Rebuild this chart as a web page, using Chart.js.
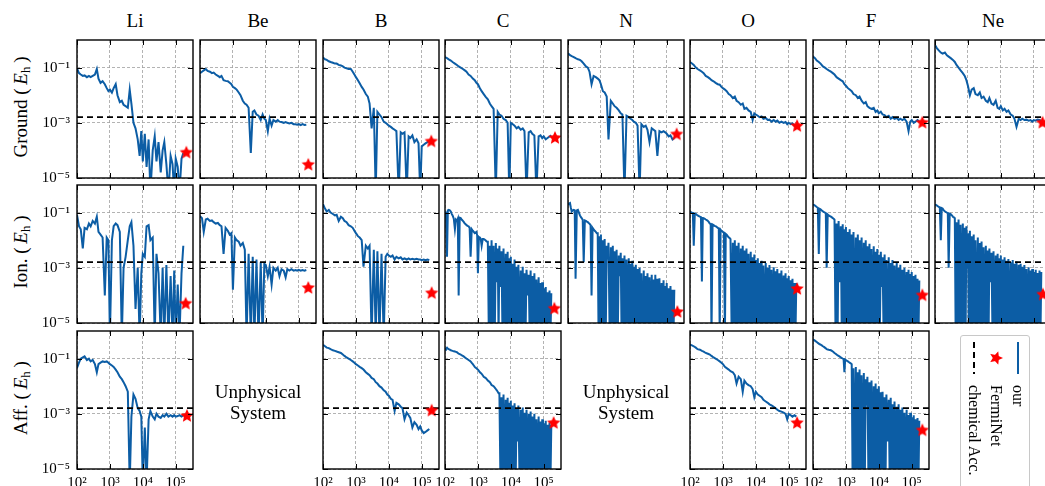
<!DOCTYPE html>
<html>
<head>
<meta charset="utf-8">
<title>Training error per element</title>
<script src="https://cdn.jsdelivr.net/npm/chart.js@4.4.1/dist/chart.umd.min.js"></script>
<style>
  html, body { margin: 0; padding: 0; overflow: hidden; background: #fff; }
  body { position: relative; width: 1045px; height: 486px; font-family: "Liberation Serif", "DejaVu Serif", serif; color: #000; }
  canvas { position: absolute; }
  .col-title { position: absolute; top: 11px; width: 116px; text-align: center; font-size: 19px; line-height: 19px; }
  .row-title { position: absolute; left: 20px; white-space: nowrap; font-size: 19px; line-height: 19px; transform: translate(-50%, -50%) rotate(-90deg); }
  .row-title sub { font-size: 13px; vertical-align: -3px; line-height: 0; }
  .unphysical { position: absolute; width: 116px; text-align: center; font-size: 19px; line-height: 21px; transform: translateY(-50%); }
  #legend { position: absolute; left: 960px; top: 335px; width: 68px; height: 170px; border: 1px solid #c8c8c8; border-radius: 3px; background: #fff; }
  #legend-inner { position: absolute; left: 68px; top: 0; width: 170px; height: 68px; transform-origin: 0 0; transform: rotate(90deg); }
  .legend-row { position: absolute; left: 0; width: 170px; height: 22px; }
  .legend-row .sym { position: absolute; left: 6px; top: 0; width: 32px; height: 22px; display: flex; align-items: center; justify-content: center; }
  .legend-row .txt { position: absolute; left: 49px; top: 0; font-size: 16px; line-height: 22px; white-space: nowrap; }
</style>
</head>
<body>
<script>
// training steps, coarse grid for calm curves
const steps = [100, 115, 130, 150, 170, 200, 230, 260, 300, 350, 400, 450, 520, 600, 700, 800, 900,
  1000, 1150, 1300, 1500, 1700, 2000, 2300, 2600, 3000, 3500, 4000, 4500, 5200, 6000, 7000, 8000, 9000,
  10000, 11500, 13000, 15000, 17000, 20000, 23000, 26000, 30000, 35000, 40000, 45000, 52000, 60000, 70000, 80000, 90000,
  100000, 115000, 130000, 150000, 170000];
// finer grid for the curves that flip sign all the time
const fineSteps = [100, 107, 115, 122, 130, 140, 150, 160, 170, 185, 200, 215, 230, 245, 260, 280, 300, 325, 350, 375,
  400, 425, 450, 485, 520, 560, 600, 650, 700, 750, 800, 850, 900, 950,
  1000, 1070, 1150, 1220, 1300, 1400, 1500, 1600, 1700, 1850, 2000, 2150, 2300, 2450, 2600, 2800, 3000, 3250, 3500, 3750,
  4000, 4250, 4500, 4850, 5200, 5600, 6000, 6500, 7000, 7500, 8000, 8500, 9000, 9500,
  10000, 10700, 11500, 12200, 13000, 14000, 15000, 16000, 17000, 18500, 20000, 21500, 23000, 24500, 26000, 28000, 30000, 32500, 35000, 37500,
  40000, 42500, 45000, 48500, 52000, 56000, 60000, 65000, 70000, 75000, 80000, 85000, 90000, 95000,
  100000, 107000, 115000, 122000, 130000, 140000, 150000, 160000, 170000];

const elements = ['Li', 'Be', 'B', 'C', 'N', 'O', 'F', 'Ne'];
const rowNames = ['Ground', 'Ion.', 'Aff.'];
const legendLabels = ['our', 'FermiNet', 'chemical Acc.'];
const xTickValues = [1e2, 1e3, 1e4, 1e5];
const xTickLabels = ['10²', '10³', '10⁴', '10⁵'];
const yTickValues = [1e-5, 1e-3, 1e-1];
const yTickLabels = ['10⁻⁵', '10⁻³', '10⁻¹'];
const CHEM_ACC = 1.6e-3;
const X_MIN = 100, X_MAX = 3.35e5, Y_MIN = 1e-5, Y_MAX = 1;

// ground state energy error (coarse grid)
const liGround = [9.3e-2,6.3e-2,5.6e-2,5e-2,5.2e-2,4.5e-2,5e-2,4.5e-2,5e-2,5.6e-2,8.9e-2,4e-2,2.8e-2,3.2e-2,2.5e-2,1.8e-2,1.4e-2,1.6e-2,1.25e-2,1.8e-2,2.5e-2,1e-2,5.6e-3,6.3e-3,4.5e-3,4e-3,3.5e-3,1.6e-2,5e-3,1e-3,6.3e-4,2.5e-4,6.3e-5,5e-4,4e-5,4e-4,2.5e-5,2.5e-4,3e-6,1e-4,3.2e-4,4e-5,2e-4,1.6e-5,1e-4,2e-4,3.2e-5,3e-6,6.3e-5,3.2e-5,3e-6,5e-5,2.5e-5,3e-6,5e-5,8e-5];
const beGround = [6.3e-2,7.1e-2,7.9e-2,8.9e-2,7.6e-2,7.1e-2,6.3e-2,6.6e-2,5.6e-2,5e-2,4.5e-2,5e-2,3.5e-2,3.3e-2,3.2e-2,2.8e-2,2.5e-2,2e-2,1.8e-2,1.6e-2,1.25e-2,1e-2,6.3e-3,5e-3,4.5e-3,3.5e-3,8e-5,2.5e-3,2.8e-3,2e-3,1.8e-3,1.26e-3,2e-3,1.4e-3,1.26e-3,5e-4,1.4e-3,7.9e-4,1.26e-3,1.1e-3,1.26e-3,1.1e-3,1.07e-3,1e-3,1.07e-3,1e-3,9.5e-4,1e-3,8.9e-4,8.9e-4,8.5e-4,8.9e-4,8.3e-4,8.9e-4,8.3e-4,8.5e-4];
const bGround = [0.23,0.2,0.19,0.17,0.16,0.15,0.14,0.14,0.125,0.12,0.11,0.1,0.095,0.089,0.089,0.071,0.056,0.045,0.035,0.027,0.02,0.016,0.011,8.9e-3,5e-3,6.3e-4,3.5e-3,3e-6,2.5e-3,2e-3,1.6e-3,1.1e-3,1e-3,8.9e-4,7.9e-4,7.1e-4,6.3e-4,5.6e-4,5e-4,3e-6,4.5e-4,4e-4,4.5e-4,3e-6,3.2e-4,2.8e-4,3.5e-4,2e-4,2.5e-4,1.8e-4,3e-6,1.4e-4,1.6e-4,1.8e-4,2e-4,2.2e-4];
const cGround = [0.24,0.22,0.2,0.18,0.16,0.14,0.125,0.11,0.1,0.089,0.079,0.071,0.056,0.05,0.04,0.035,0.028,0.025,0.018,0.014,0.011,8.9e-3,7.1e-3,5e-3,4e-3,3.2e-3,3e-6,2.5e-3,2e-3,1.8e-3,1.4e-3,1.26e-3,1e-3,3e-6,1e-3,8.9e-4,7.9e-4,6.3e-4,7.1e-4,5.6e-4,6.3e-4,5e-4,3e-6,4.5e-4,5e-4,4e-4,3.5e-4,3e-6,3.2e-4,3.5e-4,2.8e-4,3.2e-4,2.5e-4,2.8e-4,3.2e-4,3.5e-4];
const nGround = [0.33,0.28,0.26,0.24,0.22,0.2,0.19,0.17,0.14,0.11,0.1,0.071,0.025,0.05,0.045,0.04,0.035,0.025,0.014,0.0125,8.9e-3,2.5e-4,6.3e-3,5e-3,4e-3,3.5e-3,2.8e-3,2.2e-3,2e-3,3e-6,1.8e-3,1.6e-3,1.4e-3,1.26e-3,1.1e-3,1e-3,7.9e-4,3e-6,8.9e-4,7.1e-4,7.9e-4,5.6e-4,2e-4,6.3e-4,5.6e-4,5e-4,6.3e-5,5e-4,4.5e-4,5e-4,4.5e-4,4e-4,3.2e-4,3.5e-4,2.5e-4,2.8e-4];
const oGround = [0.16,0.14,0.125,0.1,0.089,0.079,0.071,0.063,0.05,0.045,0.04,0.035,0.032,0.028,0.025,0.024,0.02,0.018,0.016,0.014,0.011,0.01,7.9e-3,8.9e-3,6.3e-3,5.6e-3,4.5e-3,5e-3,3.2e-3,3.5e-3,2.8e-3,2.5e-3,1.26e-3,2.2e-3,2e-3,1.8e-3,1.6e-3,1.7e-3,1.4e-3,1.5e-3,1.26e-3,1.3e-3,1.1e-3,1.26e-3,1.1e-3,1.2e-3,1e-3,1.1e-3,1e-3,1.07e-3,8.9e-4,1e-3,8.9e-4,9.5e-4,7.9e-4,7.9e-4];
const fGround = [0.25,0.22,0.18,0.16,0.14,0.11,0.1,0.089,0.079,0.071,0.063,0.056,0.045,0.04,0.035,0.032,0.025,0.022,0.018,0.016,0.014,0.011,0.01,7.9e-3,8.9e-3,6.3e-3,5e-3,5.6e-3,4e-3,3.5e-3,3.2e-3,3.5e-3,2.5e-3,2.8e-3,2.2e-3,2.5e-3,2e-3,1.9e-3,1.6e-3,1.8e-3,1.4e-3,1.6e-3,1.4e-3,1.5e-3,1.26e-3,1.4e-3,1.26e-3,1.4e-3,1.1e-3,5e-4,1.1e-3,1.26e-3,1e-3,1.1e-3,1.26e-3,1.1e-3];
const neGround = [0.66,0.5,0.42,0.35,0.32,0.35,0.28,0.25,0.22,0.19,0.16,0.125,0.1,0.079,0.063,0.05,0.035,0.022,0.01,0.016,0.018,0.011,0.01,0.0125,7.9e-3,8.9e-3,6.3e-3,5.6e-3,7.9e-3,5e-3,4.5e-3,6.3e-3,3.5e-3,3.2e-3,4e-3,2.8e-3,3.2e-3,2.5e-3,2.8e-3,2e-3,1.8e-3,1.4e-3,7.1e-4,1.4e-3,1.26e-3,1.4e-3,1.26e-3,1.3e-3,1.2e-3,1.26e-3,1.1e-3,1.26e-3,1.2e-3,1.3e-3,1.26e-3,1.2e-3];

// ionization energy error (Li, Be, B coarse grid; the rest fine grid)
const liIon = [8.3e-2,3.2e-2,2.5e-2,5e-3,2.8e-2,2.5e-2,4e-2,3.2e-2,5e-2,4e-2,7.1e-2,2e-2,1.6e-2,1.25e-2,1e-4,1.25e-2,1e-2,3e-6,1e-2,3.2e-2,4e-2,3.5e-2,2e-2,3e-6,1e-3,2.5e-3,1e-2,3.2e-2,4.5e-2,6.3e-3,3.2e-5,1e-3,3e-6,6.3e-4,3.2e-3,2.5e-3,3.2e-2,3.5e-2,1e-2,1.25e-2,3e-6,3.2e-3,6.3e-4,3e-6,1e-3,3e-6,1.26e-3,3e-6,5e-4,3e-6,7.9e-4,3e-6,2.5e-4,3e-6,6.3e-4,6.3e-3];
const beIon = [7.4e-2,6.3e-2,2e-2,5.6e-2,6e-2,5e-2,5.2e-2,4.5e-2,4e-2,4.2e-2,3.5e-2,3.2e-2,3.2e-3,2.8e-2,2.2e-2,1.6e-2,1.8e-2,1.6e-4,1.25e-2,1e-2,8.9e-3,6.3e-3,7.9e-3,4.5e-3,3e-6,3.2e-3,3e-6,2.5e-3,3e-6,2e-3,3e-6,1.6e-3,3e-6,1.4e-3,1.26e-3,5e-4,1.1e-3,2.5e-4,1e-3,7.9e-4,1e-3,5e-4,8.9e-4,7.9e-4,4.5e-4,8.9e-4,7.9e-4,8.9e-4,7.9e-4,8.3e-4,7.9e-4,8.5e-4,7.9e-4,8.3e-4,7.9e-4,8.3e-4];
const bIon = [0.2,0.14,0.11,0.125,0.1,0.089,0.079,0.083,0.05,0.071,0.063,0.05,0.045,0.035,0.032,0.028,0.022,0.018,0.014,0.0125,0.01,1.1e-3,6.3e-3,5e-3,6.3e-3,3e-6,4.5e-3,3e-6,4e-3,3e-6,3.2e-3,3e-6,2.5e-3,3.2e-3,2.8e-3,2.5e-3,2.8e-3,2e-3,2.5e-3,2.2e-3,2.4e-3,2e-3,2.2e-3,2e-3,2.2e-3,2e-3,2.1e-3,2e-3,2.1e-3,2e-3,2e-3,1.9e-3,2e-3,1.9e-3,2e-3,1.9e-3];
const cIon = [0.1,0.11,2.5e-3,0.12,0.125,0.12,0.11,0.09,0.079,0.06,
  0.025,0.055,0.05,0.06,1e-4,0.065,0.063,0.055,0.05,0.045,
  0.04,0.038,0.035,0.033,0.032,0.028,2.5e-3,0.025,0.022,0.02,
  0.018,0.019,0.02,0.015,6.3e-4,0.013,0.0125,0.011,6.3e-3,0.011,
  0.011,0.0105,0.01,0.009,
  8.9e-3,3e-6,6.3e-3,3e-6,1e-2,3e-6,6.3e-3,3e-6,7.9e-3,3e-4,
  5e-3,3e-6,6.3e-3,2e-4,4e-3,3e-6,5e-3,3e-6,3.2e-3,3e-6,
  3.8e-3,3e-6,2.2e-3,3e-6,2.5e-3,3e-6,1.4e-3,3e-6,2e-3,3e-6,
  1.1e-3,3e-6,1.3e-3,3e-6,8e-4,3e-6,1.1e-3,3e-6,6.3e-4,3e-6,
  8.5e-4,1e-4,5.6e-4,3e-6,8e-4,3e-6,5e-4,3e-6,6.3e-4,3e-6,
  3.8e-4,3e-6,4.5e-4,3e-6,2.8e-4,3e-6,3e-4,3e-6,1.8e-4,3e-6,
  2e-4,3e-6,1.3e-4,3e-6,1.5e-4,3e-6,1.2e-4];
const nIon = [0.2,0.21,0.22,0.15,0.11,0.12,0.125,0.12,4e-4,0.12,
  0.125,0.1,0.079,0.07,0.063,0.055,1.6e-3,0.052,0.05,0.047,
  0.045,0.042,0.04,0.035,1e-4,0.028,0.025,0.022,0.02,0.018,
  0.018,3e-6,0.014,3e-6,0.016,3e-6,0.01,3e-6,0.011,3e-6,
  6.3e-3,2e-3,8e-3,3e-6,5.6e-3,3e-6,6.3e-3,3e-6,4e-3,3e-6,
  4.5e-3,3e-6,2.8e-3,5e-4,3.5e-3,3e-6,2.2e-3,3e-6,2.8e-3,3e-6,
  2e-3,3e-6,2.2e-3,3e-6,1.4e-3,3e-6,1.8e-3,3e-6,1.1e-3,3e-6,
  1.3e-3,3e-6,9e-4,3e-6,1e-3,3e-6,6.3e-4,3e-6,7.9e-4,3e-6,
  5e-4,3e-6,6.3e-4,3e-6,4.5e-4,3e-6,5.6e-4,3e-6,3.8e-4,3e-6,
  5.6e-4,3e-6,4e-4,3e-6,4.2e-4,3e-6,2.8e-4,3e-6,3.5e-4,3e-6,
  2.2e-4,3e-6,2.8e-4,3e-6,1.8e-4,3e-6,2.2e-4,3e-6,1.6e-4,3e-6,
  1.6e-4];
const oIon = [0.11,0.105,0.1,0.098,6.3e-3,0.092,0.089,0.084,0.079,0.075,
  0.071,0.068,3.2e-4,0.064,0.063,0.06,0.056,0.053,0.05,0.045,
  0.04,0.039,3e-6,0.037,0.035,0.033,0.032,0.03,0.028,0.026,
  3e-6,0.024,0.022,0.021,0.02,0.019,3e-6,0.017,0.016,0.014,
  0.0126,0.012,
  0.011,3e-6,8e-3,3e-6,0.01,3e-6,6.3e-3,3e-6,
  8e-3,3e-6,5e-3,3e-6,6.3e-3,3e-6,4.2e-3,3e-6,5e-3,3e-6,
  3.2e-3,3e-6,3.8e-3,3e-6,2.4e-3,3e-6,3e-3,3e-6,1.9e-3,3e-6,
  2.2e-3,3e-6,1.5e-3,3e-6,1.8e-3,3e-6,1.2e-3,3e-6,1.5e-3,3e-6,
  1e-3,3e-6,1.26e-3,3e-6,8.5e-4,3e-6,1.05e-3,3e-6,7.5e-4,3e-6,
  9e-4,3e-6,6.3e-4,3e-6,7.9e-4,3e-6,5.3e-4,3e-6,6.3e-4,3e-6,
  4.2e-4,3e-6,5e-4,3e-6,3.5e-4,3e-6,4e-4,3e-6,2.8e-4,3e-6,
  2.8e-4];
const fIon = [0.2,0.19,0.18,0.17,0.16,0.15,3.2e-3,0.135,0.13,0.12,
  0.11,0.105,0.1,0.095,1e-3,0.085,0.079,0.075,0.071,0.067,
  0.063,0.06,
  0.056,3e-6,0.04,3e-6,0.05,3e-4,0.032,3e-6,
  0.038,3e-6,0.025,3e-6,0.03,3e-6,0.02,3e-6,0.025,3e-6,
  0.016,3e-6,0.02,3e-6,0.0126,3e-6,0.016,3e-6,0.01,3e-6,
  0.0126,3e-6,8e-3,3e-6,0.01,3e-6,6e-3,3e-6,7.5e-3,3e-6,
  4.8e-3,3e-6,6e-3,3e-6,3.8e-3,3e-6,4.8e-3,3e-6,3e-3,3e-6,
  3.8e-3,2e-4,2.4e-3,3e-6,3e-3,3e-6,1.9e-3,3e-6,2.4e-3,3e-6,
  1.5e-3,3e-6,1.9e-3,3e-6,1.2e-3,3e-6,1.5e-3,3e-6,1e-3,3e-6,
  1.3e-3,3e-6,8.5e-4,3e-6,1e-3,3e-6,7e-4,3e-6,8.5e-4,3e-6,
  6e-4,3e-6,7.1e-4,3e-6,5e-4,3e-6,5.6e-4,3e-6,4e-4,3e-6,
  3.5e-4];
const neIon = [0.2,0.19,0.18,0.17,0.16,0.155,0.01,0.145,0.14,0.12,
  0.11,0.105,0.1,0.097,1e-3,0.092,0.089,0.08,0.071,0.067,
  0.063,3e-6,0.045,3e-6,0.056,3e-6,0.036,3e-6,0.04,3e-6,
  0.028,3e-6,0.032,1e-3,0.018,3e-6,0.022,3e-6,0.014,3e-6,
  0.016,3e-6,0.01,3e-6,0.0126,3e-6,7.9e-3,3e-6,8.9e-3,3e-6,
  5.6e-3,3e-6,6.3e-3,3e-6,4.2e-3,3e-6,5e-3,3e-4,3.5e-3,3e-6,
  4e-3,3e-6,2.8e-3,3e-6,3.2e-3,3e-6,2.2e-3,3e-6,2.8e-3,3e-6,
  2e-3,3e-6,2.4e-3,3e-6,1.8e-3,3e-6,2.1e-3,3e-6,1.6e-3,3e-6,
  1.9e-3,3e-6,1.4e-3,3e-6,1.7e-3,3e-6,1.3e-3,3e-6,1.4e-3,3e-6,
  1.1e-3,3e-6,1.26e-3,3e-6,9e-4,3e-6,1.05e-3,3e-6,8e-4,3e-6,
  9e-4,3e-6,7e-4,3e-6,8.5e-4,3e-6,6.5e-4,3e-6,8e-4,3e-6,
  7.1e-4];

// electron affinity error (Li, B, O coarse grid; C, F fine grid)
const liAff = [4.6e-2,7.1e-2,0.1,0.11,0.12,0.089,0.1,0.079,0.089,0.063,0.032,0.063,0.071,0.079,0.076,0.079,0.071,0.063,0.056,0.05,0.04,0.032,0.022,0.018,0.014,0.01,6.3e-3,3e-6,7.9e-4,5e-3,3.5e-3,1.6e-3,1.26e-3,7.9e-4,3e-6,3.2e-4,3e-6,6.3e-4,1.26e-3,7.9e-4,6.3e-4,1e-3,7.9e-4,7.1e-4,8.9e-4,7.9e-4,1e-3,7.9e-4,8.9e-4,7.9e-4,8.9e-4,7.9e-4,8.3e-4,8.9e-4,7.9e-4,8.9e-4];
const bAff = [0.32,0.28,0.25,0.24,0.22,0.2,0.19,0.18,0.17,0.16,0.14,0.125,0.11,0.1,0.089,0.079,0.071,0.063,0.056,0.05,0.045,0.04,0.032,0.028,0.025,0.02,0.018,0.014,0.0125,0.01,8.9e-3,7.1e-3,6.3e-3,5e-3,4.5e-3,3.5e-3,3.2e-3,1.26e-3,2.5e-3,2.2e-3,1.8e-3,1.6e-3,6.3e-4,1.1e-3,8.9e-4,7.1e-4,3.2e-4,5e-4,4e-4,2.8e-4,3.5e-4,2.5e-4,2e-4,2.2e-4,2.5e-4,2.8e-4];
const cAff = [0.21,0.23,0.25,0.23,0.22,0.21,0.2,0.195,0.19,0.185,
  0.18,0.175,0.17,0.16,0.15,0.145,0.14,0.13,0.125,0.118,
  0.11,0.105,0.1,0.095,0.089,0.084,0.079,0.07,0.063,0.056,
  0.05,0.047,0.045,0.042,0.04,0.036,0.032,0.03,0.028,0.025,
  0.022,0.021,0.02,0.018,0.016,0.015,0.014,0.0125,0.011,0.0105,
  0.01,8.9e-3,7.9e-3,7.1e-3,6.3e-3,5.6e-3,
  5.6e-3,3e-6,4e-3,3e-6,5e-3,3e-6,3.2e-3,3e-6,
  3.8e-3,3e-6,2.5e-3,3e-6,3e-3,3e-6,2e-3,3e-6,2.4e-3,3e-6,
  1.6e-3,1e-4,2e-3,3e-6,1.4e-3,3e-6,1.7e-3,3e-6,1.1e-3,3e-6,
  1.4e-3,3e-6,1e-3,3e-6,1.2e-3,3e-6,8e-4,3e-6,1e-3,3e-6,
  6.3e-4,3e-6,8e-4,3e-6,5.3e-4,3e-6,6.3e-4,3e-6,4.5e-4,3e-6,
  5.6e-4,3e-6,4e-4,3e-6,4.8e-4,3e-6,4e-4];
const oAff = [0.32,0.3,0.28,0.25,0.22,0.21,0.19,0.18,0.16,0.15,0.14,0.125,0.11,0.1,0.089,0.079,0.071,0.063,0.05,0.045,0.04,0.035,0.032,0.025,0.0125,0.022,0.018,6.3e-3,0.016,0.0125,0.011,0.01,7.9e-3,4e-3,6.3e-3,5e-3,4.5e-3,4e-3,3.2e-3,2.8e-3,2.5e-3,2.2e-3,2e-3,1.8e-3,1.6e-3,1.4e-3,1.26e-3,1.2e-3,1.1e-3,1e-3,6.3e-4,1e-3,8.9e-4,7.9e-4,8.9e-4,7.9e-4];
const fAff = [0.5,0.47,0.45,0.42,0.4,0.37,0.35,0.33,0.32,0.3,
  0.28,0.265,0.25,0.235,0.22,0.215,0.21,0.205,0.2,0.19,
  0.18,0.17,0.16,0.15,0.14,0.13,0.125,0.118,0.11,0.105,
  0.1,0.098,0.032,0.092,0.089,0.084,0.079,0.075,0.071,0.067,
  0.063,3e-6,0.045,3e-6,0.05,3e-6,0.032,3e-6,0.04,3e-6,
  0.025,3e-6,0.03,3e-6,0.018,2e-3,0.022,3e-6,0.014,3e-6,
  0.016,3e-6,0.01,3e-6,0.0126,3e-6,8e-3,3e-6,0.01,3e-6,
  6e-3,3e-6,6.3e-3,3e-6,4e-3,3e-6,5e-3,1e-4,3.2e-3,3e-6,
  3.8e-3,3e-6,2.2e-3,3e-6,2.8e-3,3e-6,1.8e-3,3e-6,2.2e-3,3e-6,
  1.4e-3,3e-6,1.7e-3,3e-6,1.1e-3,3e-6,1.4e-3,3e-6,9e-4,3e-6,
  1.1e-3,3e-6,7.5e-4,3e-6,8.9e-4,3e-6,6.3e-4,3e-6,7.1e-4,3e-6,
  5.6e-4];

// FermiNet reference results (step, error)
const fermiGroundStep = [2.1e5, 1.95e5, 1.95e5, 2.2e5, 2e5, 1.8e5, 2.1e5, 1.85e5];
const fermiGround = [8.3e-5, 3e-5, 2.1e-4, 2.8e-4, 3.8e-4, 7.6e-4, 1e-3, 1e-3];
const fermiIonStep = [2e5, 1.95e5, 2e5, 2.1e5, 2.1e5, 1.8e5, 2.1e5, 1.9e5];
const fermiIon = [5e-5, 1.85e-4, 1.2e-4, 3.3e-5, 2.5e-5, 1.7e-4, 1e-4, 1.07e-4];
const fermiAffStep = [2.2e5, null, 2e5, 2e5, null, 1.8e5, 2.1e5, null];
const fermiAff = [8.3e-4, null, 1.3e-3, 4.6e-4, null, 4.6e-4, 2.5e-4, null];

// layout of the grid of panels
const COL_LEFT = [77, 200, 323, 445, 568, 690, 813, 935];
const ROW_TOP = [40, 185, 331];
const PANEL_W = 116, PANEL_H = 138;
const PAD_L = 45, PAD_R = 10, PAD_T = 20, PAD_B = 26;
const BLUE = '#0C5DA5';
const GRID = '#a0a0a0';
const TICK_FONT = { family: "'Liberation Serif', 'DejaVu Serif', serif", size: 15 };

const curves = [
    [liGround, beGround, bGround, cGround, nGround, oGround, fGround, neGround],
    [liIon, beIon, bIon, cIon, nIon, oIon, fIon, neIon],
    [liAff, null, bAff, cAff, null, oAff, fAff, null]
];
const stars = [
    [fermiGroundStep, fermiGround],
    [fermiIonStep, fermiIon],
    [fermiAffStep, fermiAff]
];

function makeStar(r) {
    const c = document.createElement('canvas');
    const s = Math.ceil(2 * r + 2);
    c.width = s;
    c.height = s;
    const g = c.getContext('2d');
    g.fillStyle = '#ff0000';
    g.beginPath();
    for (let k = 0; k < 10; k++) {
        const rad = k % 2 ? r * 0.47 : r;
        const ang = -Math.PI / 2 + k * Math.PI / 5;
        g.lineTo(s / 2 + rad * Math.cos(ang), s / 2 + rad * Math.sin(ang));
    }
    g.closePath();
    g.fill();
    return c;
}
const starImg = makeStar(7);

// box round the plot area plus inward tick marks, matplotlib style
const framePlugin = {
    id: 'frame',
    afterDatasetsDraw(chart) {
        const { ctx, chartArea: a } = chart;
        const x = chart.scales.x, y = chart.scales.y;
        ctx.save();
        ctx.strokeStyle = '#000';
        ctx.lineWidth = 1;
        ctx.beginPath();
        x.ticks.forEach(t => {
            const px = Math.round(x.getPixelForValue(t.value)) + 0.5;
            ctx.moveTo(px, a.bottom); ctx.lineTo(px, a.bottom - 5);
            ctx.moveTo(px, a.top); ctx.lineTo(px, a.top + 5);
        });
        y.ticks.forEach(t => {
            const py = Math.round(y.getPixelForValue(t.value)) + 0.5;
            ctx.moveTo(a.left, py); ctx.lineTo(a.left + 5, py);
            ctx.moveTo(a.right, py); ctx.lineTo(a.right - 5, py);
        });
        ctx.stroke();
        ctx.lineWidth = 1.4;
        ctx.strokeRect(a.left, a.top, a.right - a.left, a.bottom - a.top);
        ctx.restore();
    }
};

function addPanel(row, col) {
    const values = curves[row][col];
    // curves written on the fine grid have as many values as it has steps
    const xs = values.length === fineSteps.length ? fineSteps : steps;
    const canvas = document.createElement('canvas');
    canvas.width = PANEL_W + PAD_L + PAD_R;
    canvas.height = PANEL_H + PAD_T + PAD_B;
    canvas.style.left = (COL_LEFT[col] - PAD_L) + 'px';
    canvas.style.top = (ROW_TOP[row] - PAD_T) + 'px';
    document.body.appendChild(canvas);

    const [starSteps, starVals] = stars[row];
    const datasets = [];
    if (starVals[col] !== null) {
        datasets.push({
            data: [{ x: starSteps[col], y: starVals[col] }],
            showLine: false,
            pointStyle: starImg,
            pointRadius: 7
        });
    }
    datasets.push({
        data: [{ x: X_MIN, y: CHEM_ACC }, { x: X_MAX, y: CHEM_ACC }],
        borderColor: '#000',
        borderWidth: 1.7,
        borderDash: [6, 4],
        pointRadius: 0
    });
    datasets.push({
        data: values.map((v, i) => ({ x: xs[i], y: v })),
        borderColor: BLUE,
        borderWidth: 2,
        pointRadius: 0,
        tension: 0
    });

    new Chart(canvas, {
        type: 'line',
        data: { datasets },
        options: {
            responsive: false,
            animation: false,
            events: [],
            layout: { padding: { top: PAD_T, right: PAD_R, bottom: 0, left: 0 } },
            plugins: { legend: { display: false }, tooltip: { enabled: false } },
            scales: {
                x: {
                    type: 'logarithmic',
                    min: X_MIN,
                    max: X_MAX,
                    afterBuildTicks: s => { s.ticks = xTickValues.map(v => ({ value: v })); },
                    afterFit: s => { s.height = PAD_B; },
                    grid: { color: GRID, lineWidth: 0.8, drawTicks: false },
                    border: { display: false, dash: [3, 2] },
                    ticks: {
                        display: row === 2,
                        autoSkip: false,
                        maxRotation: 0,
                        padding: 5,
                        color: '#000',
                        font: TICK_FONT,
                        callback: (v, i) => xTickLabels[i]
                    }
                },
                y: {
                    type: 'logarithmic',
                    min: Y_MIN,
                    max: Y_MAX,
                    afterBuildTicks: s => { s.ticks = yTickValues.map(v => ({ value: v })); },
                    afterFit: s => { s.width = PAD_L; },
                    grid: { color: GRID, lineWidth: 0.8, drawTicks: false },
                    border: { display: false, dash: [3, 2] },
                    ticks: {
                        display: col === 0,
                        padding: 7,
                        color: '#000',
                        font: TICK_FONT,
                        callback: (v, i) => yTickLabels[i]
                    }
                }
            }
        },
        plugins: [framePlugin]
    });
}

function addDiv(cls, html, left, top) {
    const d = document.createElement('div');
    d.className = cls;
    d.innerHTML = html;
    d.style.left = left + 'px';
    d.style.top = top + 'px';
    document.body.appendChild(d);
    return d;
}

elements.forEach((el, c) => addDiv('col-title', el, COL_LEFT[c], 11));
rowNames.forEach((name, r) => {
    addDiv('row-title', name + ' (&thinsp;<i>E</i><sub>h</sub>&thinsp;)', 20, ROW_TOP[r] + PANEL_H / 2 - 2);
});

for (let r = 0; r < 3; r++) {
    for (let c = 0; c < elements.length; c++) {
        if (curves[r][c]) {
            addPanel(r, c);
        } else if (c < 7) {
            addDiv('unphysical', 'Unphysical<br>System', COL_LEFT[c], ROW_TOP[r] + PANEL_H / 2 + 2);
        }
    }
}

// legend, turned a quarter turn like in the figure
const legend = document.createElement('div');
legend.id = 'legend';
const inner = document.createElement('div');
inner.id = 'legend-inner';
legend.appendChild(inner);
const rowCenters = [11, 33, 55];
const symbols = [
    '<svg width="32" height="6"><line x1="0" y1="3" x2="32" y2="3" stroke="' + BLUE + '" stroke-width="2"/></svg>',
    null,
    '<svg width="32" height="6"><line x1="0" y1="3" x2="32" y2="3" stroke="#000" stroke-width="2" stroke-dasharray="6 4"/></svg>'
];
legendLabels.forEach((label, k) => {
    const rowDiv = document.createElement('div');
    rowDiv.className = 'legend-row';
    rowDiv.style.top = (rowCenters[k] - 11) + 'px';
    const sym = document.createElement('div');
    sym.className = 'sym';
    if (symbols[k]) {
        sym.innerHTML = symbols[k];
    } else {
        sym.appendChild(makeStar(7));
    }
    const txt = document.createElement('div');
    txt.className = 'txt';
    txt.textContent = label;
    rowDiv.appendChild(sym);
    rowDiv.appendChild(txt);
    inner.appendChild(rowDiv);
});
document.body.appendChild(legend);
</script>
</body>
</html>
